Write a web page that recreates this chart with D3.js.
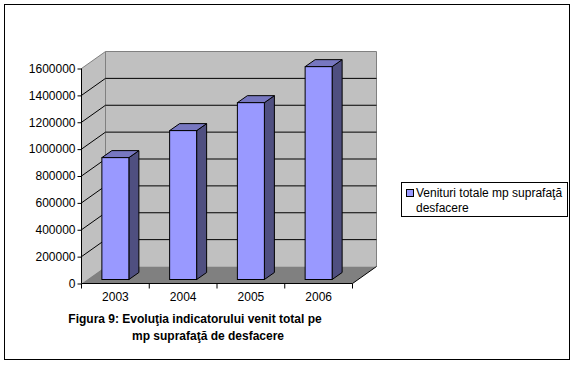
<!DOCTYPE html>
<html>
<head>
<meta charset="utf-8">
<script src="https://cdn.jsdelivr.net/npm/d3@7"></script>
<style>
    body { margin: 0; background: #fff; }
    svg { display: block; }
    text { font-family: 'Liberation Sans', Arial, sans-serif; font-size: 12px; fill: #000; }
</style>
</head>
<body>
<div id="chart"></div>
<script>
const years = ['2003', '2004', '2005', '2006'];
const venituri = [907000, 1108000, 1316000, 1584000];
const yTicks = [0, 200000, 400000, 600000, 800000, 1000000, 1200000, 1400000, 1600000];
const seriesName = ['Venituri totale mp suprafaţă', 'desfacere'];
const titleLines = ['Figura 9: Evoluţia indicatorului venit total pe', 'mp suprafaţă de desfacere'];

const width = 582;
const height = 365;
const plotLeft = 81.5;
const plotRight = 352.5;
const plotTop = 68.5;
const plotBottom = 283.5;
const depthX = 24;
const depthY = 17;

// small offset of the bars inside the 3d floor
const barShiftX = 0;
const barShiftY = 4;
const barWidth = 27;
const barDepthX = 10;
const barDepthY = 7;

const svg = d3.select('#chart')
    .append('svg')
    .attr('width', width)
    .attr('height', height);

svg.append('rect')
    .attr('x', 4.5)
    .attr('y', 4.5)
    .attr('width', 565)
    .attr('height', 355)
    .attr('fill', '#fff')
    .attr('stroke', '#000');

const x = d3.scaleBand()
    .domain(years)
    .range([plotLeft, plotRight]);

const y = d3.scaleLinear()
    .domain([0, 1600000])
    .range([plotBottom, plotTop]);

const poly = (pts) => pts.map((p) => p.join(',')).join(' ');

// side wall
svg.append('polygon')
    .attr('points', poly([
        [plotLeft, plotTop],
        [plotLeft + depthX, plotTop - depthY],
        [plotLeft + depthX, plotBottom - depthY],
        [plotLeft, plotBottom],
    ]))
    .attr('fill', '#c0c0c0');

// back wall
svg.append('rect')
    .attr('x', plotLeft + depthX)
    .attr('y', plotTop - depthY)
    .attr('width', plotRight - plotLeft)
    .attr('height', plotBottom - plotTop)
    .attr('fill', '#c0c0c0');

// floor
svg.append('polygon')
    .attr('points', poly([
        [plotLeft, plotBottom],
        [plotLeft + depthX, plotBottom - depthY],
        [plotRight + depthX, plotBottom - depthY],
        [plotRight, plotBottom],
    ]))
    .attr('fill', '#808080');

// wall edges
svg.append('polyline')
    .attr('points', poly([
        [plotLeft, plotTop],
        [plotLeft + depthX, plotTop - depthY],
        [plotRight + depthX, plotTop - depthY],
        [plotRight + depthX, plotBottom - depthY],
    ]))
    .attr('fill', 'none')
    .attr('stroke', '#808080')
    .attr('stroke-width', 1);

svg.append('line')
    .attr('x1', plotLeft + depthX)
    .attr('x2', plotLeft + depthX)
    .attr('y1', plotTop - depthY)
    .attr('y2', plotBottom - depthY)
    .attr('stroke', '#808080');

// gridlines
svg.append('g')
    .selectAll('polyline')
    .data(yTicks.filter((d) => d > 0 && d < 1600000))
    .enter()
    .append('polyline')
    .attr('points', (d) => poly([
        [plotLeft, y(d)],
        [plotLeft + depthX, y(d) - depthY],
        [plotRight + depthX, y(d) - depthY],
    ]))
    .attr('fill', 'none')
    .attr('stroke', '#000');

// floor right edge
svg.append('line')
    .attr('x1', plotRight)
    .attr('y1', plotBottom)
    .attr('x2', plotRight + depthX)
    .attr('y2', plotBottom - depthY)
    .attr('stroke', '#000');

// bars
const bars = svg.append('g')
    .selectAll('g')
    .data(years.map((year, i) => ({ year, value: venituri[i] })))
    .enter()
    .append('g');

const barLeft = (d) => x(d.year) + (x.bandwidth() - barWidth) / 2 + barShiftX;
const barTop = (d) => y(d.value) - barShiftY;
const barBase = plotBottom - barShiftY;

bars.append('polygon')
    .attr('points', (d) => poly([
        [barLeft(d) + barWidth, barTop(d)],
        [barLeft(d) + barWidth + barDepthX, barTop(d) - barDepthY],
        [barLeft(d) + barWidth + barDepthX, barBase - barDepthY],
        [barLeft(d) + barWidth, barBase],
    ]))
    .attr('fill', '#4f4f80')
    .attr('stroke', '#000')
    .attr('stroke-linejoin', 'round');

bars.append('polygon')
    .attr('points', (d) => poly([
        [barLeft(d), barTop(d)],
        [barLeft(d) + barDepthX, barTop(d) - barDepthY],
        [barLeft(d) + barWidth + barDepthX, barTop(d) - barDepthY],
        [barLeft(d) + barWidth, barTop(d)],
    ]))
    .attr('fill', '#7777c0')
    .attr('stroke', '#000')
    .attr('stroke-linejoin', 'round');

bars.append('rect')
    .attr('x', barLeft)
    .attr('y', barTop)
    .attr('width', barWidth)
    .attr('height', (d) => barBase - barTop(d))
    .attr('fill', '#9999ff')
    .attr('stroke', '#000');

// axes
const yAxis = svg.append('g')
    .attr('transform', `translate(${plotLeft},0)`)
    .call(d3.axisLeft(y).tickValues(yTicks).tickFormat(d3.format('d')).tickSize(4).tickPadding(2));
yAxis.selectAll('path, line').attr('stroke', '#000');
yAxis.select('.domain').attr('d', `M0,${plotTop}V${plotBottom}`);

const xAxis = svg.append('g')
    .attr('transform', `translate(0,${plotBottom})`)
    .call(d3.axisBottom(x).tickSize(0).tickPadding(9));
xAxis.select('.domain').attr('d', `M${plotLeft},0H${plotRight}`).attr('stroke', '#000');

// ticks sit between the categories
xAxis.selectAll('.sep')
    .data(years.map((d) => x(d)).concat(plotRight))
    .enter()
    .append('line')
    .attr('class', 'sep')
    .attr('x1', (d) => d)
    .attr('x2', (d) => d)
    .attr('y1', 0)
    .attr('y2', 5)
    .attr('stroke', '#000');

svg.selectAll('.axisText').remove();
svg.selectAll('.tick text')
    .style('font-size', '12px')
    .style('font-family', "'Liberation Sans', Arial, sans-serif");

// title
svg.append('text')
    .attr('x', 195)
    .attr('y', 323)
    .text(titleLines[0])
    .style('font-weight', 'bold')
    .style('text-anchor', 'middle');

svg.append('text')
    .attr('x', 208)
    .attr('y', 340)
    .text(titleLines[1])
    .style('font-weight', 'bold')
    .style('text-anchor', 'middle');

// legend
svg.append('rect')
    .attr('x', 401.5)
    .attr('y', 182.5)
    .attr('width', 166)
    .attr('height', 34)
    .attr('fill', '#fff')
    .attr('stroke', '#000');

svg.append('rect')
    .attr('x', 406.5)
    .attr('y', 189.5)
    .attr('width', 7)
    .attr('height', 7)
    .attr('fill', '#9999ff')
    .attr('stroke', '#000');

svg.selectAll('.legendLine')
    .data(seriesName)
    .enter()
    .append('text')
    .attr('class', 'legendLine')
    .attr('x', 416)
    .attr('y', (d, i) => 197 + i * 14.5)
    .text((d) => d);
</script>
</body>
</html>
